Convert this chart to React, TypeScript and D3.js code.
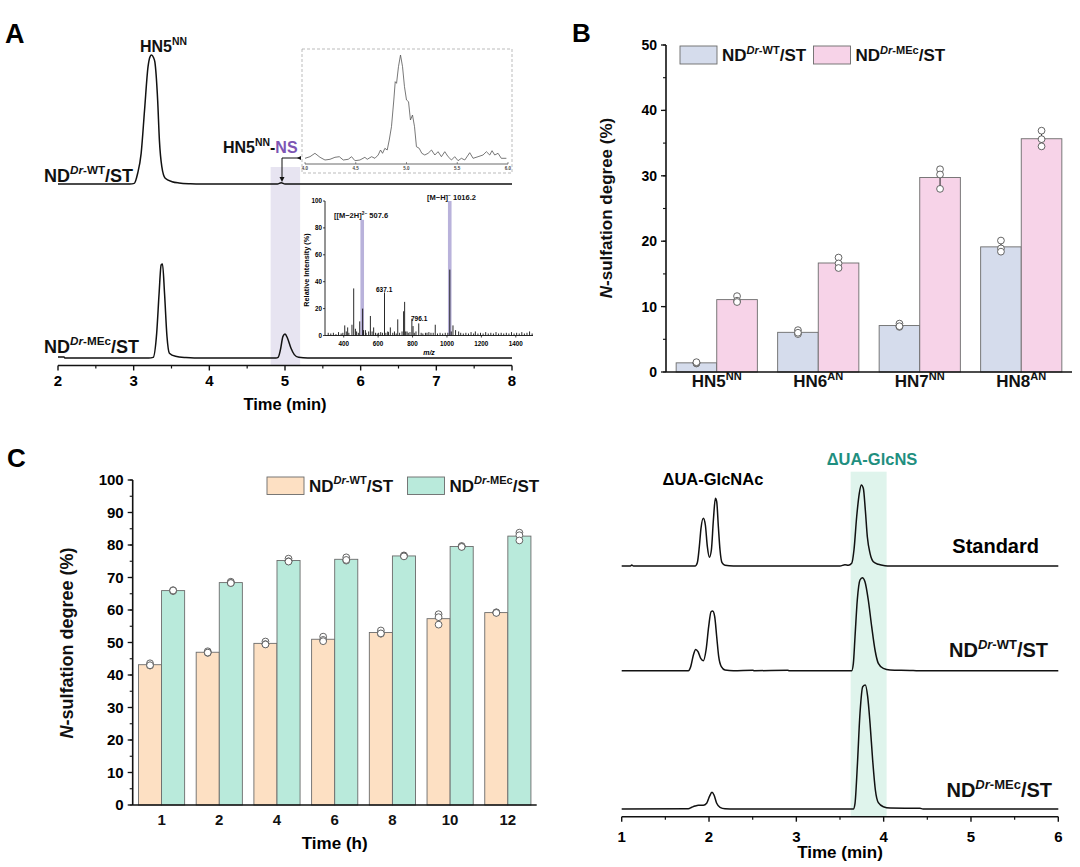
import React from 'react';
import * as d3 from 'd3';

const FONT = "'Liberation Sans', Arial, Helvetica, sans-serif";

// ---------------- Panel A data ----------------
const timeTicksA = [2, 3, 4, 5, 6, 7, 8];
const traceA_WT: [number, number][] = [
  [2.0, 0], [2.95, 0], [3.008, 0.5], [3.053, 8.3], [3.099, 23.8], [3.144, 57.4], [3.19, 91], [3.215, 98.5],
  [3.235, 100], [3.262, 98], [3.28, 94.6], [3.317, 65], [3.34, 34], [3.372, 13.4], [3.417, 4.4], [3.508, 1.8],
  [3.6, 0.8], [3.75, 0.2], [3.9, 0], [4.9, 0], [4.95, 0.9], [5.0, 0], [8.0, 0],
];
const traceA_MEc: [number, number][] = [
  [2.0, 0.8], [2.08, 0.8], [2.09, 0], [3.2, 0], [3.258, 0.5], [3.304, 19.1], [3.336, 50], [3.363, 72.1],
  [3.381, 72.9], [3.408, 50], [3.44, 16.9], [3.472, 3.7], [3.553, 1.3], [3.69, 0.3], [3.8, 0], [4.88, 0],
  [4.909, 0.5], [4.94, 6.5], [4.973, 16.8], [5.0, 18.6], [5.032, 15.5], [5.078, 7.7], [5.123, 2.6], [5.18, 0.5],
  [5.3, 0], [8.0, 0],
];
const insetTicks = [4.0, 4.5, 5.0, 5.5, 6.0];
const insetTrace: [number, number][] = [
  [4.0, 5.7], [4.049, 7.3], [4.098, 10.7], [4.148, 6.7], [4.197, 4], [4.246, 4.7], [4.295, 6.7], [4.338, 7.3],
  [4.377, 4], [4.426, 4.7], [4.459, 7.3], [4.492, 3.3], [4.541, 4], [4.59, 6.7], [4.613, 4.7], [4.656, 7.3],
  [4.689, 5.7], [4.721, 9], [4.744, 14], [4.764, 10.7], [4.787, 15.7], [4.81, 14], [4.83, 24], [4.852, 37.3],
  [4.875, 64], [4.889, 82.3], [4.902, 80.7], [4.921, 97.3], [4.941, 109], [4.961, 97.3], [4.98, 77.3], [5.0, 64],
  [5.02, 62.3], [5.039, 44], [5.059, 49], [5.079, 37.3], [5.098, 17.3], [5.125, 15.7], [5.151, 10.7], [5.18, 9],
  [5.213, 10.7], [5.246, 14], [5.279, 9], [5.311, 12.3], [5.344, 7.3], [5.377, 12.3], [5.41, 7.3], [5.443, 4],
  [5.475, 7.3], [5.508, 3.3], [5.541, 5.7], [5.574, 4], [5.623, 11.3], [5.656, 5.7], [5.705, 7.3], [5.754, 9],
  [5.787, 12.3], [5.82, 9], [5.843, 13.3], [5.869, 9], [5.902, 10.7], [5.934, 5.7], [5.984, 5.7],
];
const msXTicks = [400, 600, 800, 1000, 1200, 1400];
const msYTicks = [0, 20, 40, 60, 80, 100];
const msHighlight: [number, number][] = [[507.6, 86], [1016.2, 100]];
const msPeaks: [number, number][] = [
  [406, 7.5], [423, 6], [448, 8], [458, 35], [468, 5], [493, 10.5], [510, 20], [526, 4], [555, 14.5], [574, 6],
  [603, 2], [637.1, 32], [656, 3], [671, 6], [714, 12], [739, 3], [748, 18], [754, 25], [768, 3], [796.1, 12.5],
  [803, 7], [836, 9], [884, 2], [907, 2], [932, 8], [1016.5, 49], [1035, 7.5], [1050, 4], [1068, 3],
  [310, 2], [325, 1.5], [340, 2], [355, 1], [370, 2.5], [385, 1.5], [395, 2], [415, 3], [430, 2], [475, 3],
  [485, 2], [515, 4], [530, 2], [545, 3], [565, 3], [585, 2], [595, 1.5], [615, 2.5], [625, 2], [645, 2],
  [660, 2.5], [685, 2], [695, 3], [705, 1.5], [725, 2], [760, 3], [775, 2], [785, 2.5], [810, 2], [820, 3],
  [850, 2], [860, 1.5], [875, 2], [895, 2.5], [920, 2], [945, 1.5], [960, 2], [975, 1.5], [990, 2], [1005, 2],
  [1025, 3], [1080, 2], [1095, 1.5], [1110, 2], [1125, 1.5], [1140, 2.5], [1155, 1.5], [1165, 3], [1180, 1.5],
  [1195, 2], [1210, 1.5], [1225, 2.5], [1240, 1.5], [1255, 2], [1270, 1.5], [1285, 2.5], [1300, 1.5], [1315, 2],
  [1330, 1.5], [1345, 2], [1360, 1.5], [1375, 2.5], [1390, 1.5], [1405, 2], [1420, 1.5], [1435, 2.5], [1450, 1.5],
  [1465, 2], [1480, 3], [1495, 1.5],
];

// ---------------- Panel B data ----------------
const catsB = ['HN5', 'HN6', 'HN7', 'HN8'];
const supB = ['NN', 'AN', 'NN', 'AN'];
const wtB = [[1.3, 1.4, 1.5], [6.4, 5.8, 6.0], [7.4, 6.9, 7.0], [20.1, 18.9, 18.4]];
const mecB = [[11.6, 10.9, 10.7], [17.5, 16.6, 15.9], [31.0, 30.2, 28.0], [36.9, 35.6, 34.5]];
const yTicksB = [0, 10, 20, 30, 40, 50];

// ---------------- Panel C data ----------------
const timesC = ['1', '2', '4', '6', '8', '10', '12'];
const wtC = [[43.6, 42.9, 43.0], [47.3, 46.8, 46.9], [50.3, 49.5, 49.4], [51.8, 50.8, 50.4], [53.7, 52.7, 52.8], [58.7, 57.8, 55.5], [59.3, 59.2, 59.1]];
const mecC = [[66.1, 65.8, 66.0], [68.7, 68.3, 68.3], [75.8, 75.0, 74.9], [76.2, 75.2, 75.4], [76.8, 76.6, 76.5], [79.7, 79.5, 79.4], [83.8, 83.0, 81.4]];
const yTicksC = [0, 10, 20, 30, 40, 50, 60, 70, 80, 90, 100];

// ---------------- Panel D data ----------------
const timeTicksD = [1, 2, 3, 4, 5, 6];
const traceD_Std: [number, number][] = [
  [1.0, 0], [1.1, 0], [1.115, 1], [1.134, 0], [1.84, 0], [1.866, 3.3], [1.889, 19.3], [1.908, 37.7], [1.935, 47.7],
  [1.958, 41], [1.981, 19.3], [2.004, 8.7], [2.027, 16], [2.05, 46], [2.073, 67.7], [2.088, 64.3], [2.107, 39.3],
  [2.126, 16], [2.149, 3.3], [2.183, 0.7], [2.279, 0], [3.5, 0], [3.557, 1.3], [3.595, 0.7], [3.634, 2.7],
  [3.66, 16], [3.691, 49.3], [3.721, 72.7], [3.744, 81], [3.767, 77.7], [3.79, 56], [3.813, 29.3], [3.844, 12.7],
  [3.882, 4.3], [3.939, 1.7], [4.015, 0.3], [4.073, 0], [6.0, 0],
];
const traceD_WT: [number, number][] = [
  [1.0, 0], [1.763, 0], [1.79, 4], [1.821, 15.7], [1.847, 21.3], [1.874, 19], [1.905, 12.3], [1.935, 10],
  [1.966, 20.7], [1.996, 44], [2.023, 59], [2.042, 59.7], [2.065, 54], [2.088, 34], [2.111, 14], [2.141, 4],
  [2.183, 0.7], [2.279, 0], [2.5, 0.5], [2.52, 0], [2.9, 0.4], [2.92, 0], [3.634, 0], [3.653, 7.3], [3.672, 34],
  [3.698, 70.7], [3.729, 90.7], [3.756, 93], [3.786, 89], [3.824, 70.7], [3.863, 44], [3.901, 20.7], [3.939, 7.3],
  [3.996, 2.3], [4.073, 0.7], [4.3, 0.3], [4.4, 0], [6.0, 0],
];
const traceD_MEc: [number, number][] = [
  [1.0, 0], [1.763, 0.3], [1.802, 1.7], [1.84, 3], [1.878, 3.7], [1.935, 3.7], [1.973, 5.7], [2.004, 12.3],
  [2.034, 16.7], [2.057, 14], [2.088, 5.7], [2.126, 1.7], [2.183, 0.3], [2.3, 0], [3.653, 0], [3.672, 5.7],
  [3.698, 42.3], [3.729, 95.7], [3.76, 122.3], [3.79, 124], [3.817, 112.3], [3.844, 85.7], [3.874, 49],
  [3.905, 19], [3.939, 6.3], [3.996, 2.3], [4.073, 1], [4.416, 0.7], [4.45, 0], [6.0, 0],
];

// ---------------- text helpers ----------------
type Part = { t: string; sup?: boolean; it?: boolean; fill?: string };
const ndWT: Part[] = [{ t: 'ND' }, { t: 'Dr', sup: true, it: true }, { t: '-WT', sup: true }, { t: '/ST' }];
const ndMEc: Part[] = [{ t: 'ND' }, { t: 'Dr', sup: true, it: true }, { t: '-MEc', sup: true }, { t: '/ST' }];

function Rich({ x, y, parts, size, anchor = 'start', weight = 'bold', transform, fill = '#111' }: {
  x: number; y: number; parts: Part[]; size: number; anchor?: string; weight?: string; transform?: string; fill?: string;
}) {
  let inSup = false;
  const spans = parts.map((p, i) => {
    let dy: number | undefined;
    if (p.sup && !inSup) { dy = -size * 0.42; inSup = true; }
    else if (!p.sup && inSup) { dy = size * 0.42; inSup = false; }
    return (
      <tspan key={i} dy={dy} fontSize={p.sup ? size * 0.65 : size} fontStyle={p.it ? 'italic' : 'normal'} fill={p.fill}>
        {p.t}
      </tspan>
    );
  });
  return (
    <text x={x} y={y} fontSize={size} fontWeight={weight} textAnchor={anchor as any} fontFamily={FONT} fill={fill} transform={transform}>
      {spans}
    </text>
  );
}

// ---------------- Panel A ----------------
function PanelA() {
  const xA = d3.scaleLinear().domain([2, 8]).range([58, 512]);
  const kA = d3.scaleLinear().domain([0, 100]).range([0, 129]);
  const base1 = 184, base2 = 358, axisY = 365.5;
  const line1 = d3.line<[number, number]>().x(d => xA(d[0])).y(d => base1 - kA(d[1])).curve(d3.curveMonotoneX);
  const line2 = d3.line<[number, number]>().x(d => xA(d[0])).y(d => base2 - kA(d[1])).curve(d3.curveMonotoneX);
  const minor = d3.range(2.5, 8, 1);

  const xI = d3.scaleLinear().domain([4, 6]).range([305, 508]);
  const yI = d3.scaleLinear().domain([0, 110]).range([164, 54]);
  const lineI = d3.line<[number, number]>().x(d => xI(d[0])).y(d => yI(d[1]));

  const xM = d3.scaleLinear().domain([300, 1500]).range([326.5, 533]);
  const yM = d3.scaleLinear().domain([0, 100]).range([335.5, 201]);

  return (
    <g>
      <text x={5} y={43} fontSize={27} fontWeight="bold" fontFamily={FONT}>A</text>
      <rect x={xA(4.81)} y={167} width={xA(5.2) - xA(4.81)} height={axisY - 167} fill="#e7e4f1" />
      <path d={line1(traceA_WT) || ''} fill="none" stroke="#111" strokeWidth={1.5} />
      <path d={line2(traceA_MEc) || ''} fill="none" stroke="#111" strokeWidth={1.5} />
      <line x1={xA(2)} x2={xA(8)} y1={axisY} y2={axisY} stroke="#111" strokeWidth={1.6} />
      {timeTicksA.map(t => (
        <g key={t}>
          <line x1={xA(t)} x2={xA(t)} y1={axisY} y2={axisY + 5} stroke="#111" strokeWidth={1.4} />
          <text x={xA(t)} y={386} fontSize={15} fontWeight="bold" textAnchor="middle" fontFamily={FONT}>{t}</text>
        </g>
      ))}
      {minor.map(t => <line key={t} x1={xA(t)} x2={xA(t)} y1={axisY} y2={axisY + 3} stroke="#111" strokeWidth={1.2} />)}
      <text x={xA(5)} y={410} fontSize={16.5} fontWeight="bold" textAnchor="middle" fontFamily={FONT}>Time (min)</text>
      <Rich x={140} y={52} size={16} parts={[{ t: 'HN5' }, { t: 'NN', sup: true }]} />
      <Rich x={44} y={182} size={18} parts={ndWT} />
      <Rich x={44} y={353} size={18} parts={ndMEc} />
      <Rich x={223} y={153} size={16} parts={[{ t: 'HN5' }, { t: 'NN', sup: true }, { t: '-' }, { t: 'NS', fill: '#7d55b3' }]} />
      <path d="M300,158 L282,158 L282,178" fill="none" stroke="#111" strokeWidth={1} />
      <path d="M279.5,177 L284.5,177 L282,182 Z" fill="#111" />
      <path d="M297,158 L301,156 L301,160 Z" fill="#111" />
      <rect x={302} y={49} width={210} height={124} fill="none" stroke="#aaa" strokeWidth={0.8} strokeDasharray="3,2" />
      <path d={lineI(insetTrace) || ''} fill="none" stroke="#555" strokeWidth={0.8} />
      <line x1={xI(4)} x2={xI(6)} y1={164} y2={164} stroke="#444" strokeWidth={0.8} />
      {insetTicks.map(t => (
        <g key={t}>
          <line x1={xI(t)} x2={xI(t)} y1={164} y2={162} stroke="#444" strokeWidth={0.6} />
          <text x={xI(t)} y={170} fontSize={4.5} fontWeight="bold" textAnchor="middle" fontFamily={FONT} fill="#444">{t.toFixed(1)}</text>
        </g>
      ))}
      {msHighlight.map(([m, v]) => (
        <rect key={m} x={xM(m) - 1.8} y={yM(v)} width={3.6} height={yM(0) - yM(v)} fill="#b9b2db" />
      ))}
      {msPeaks.map(([m, v], i) => (
        <line key={i} x1={xM(m)} x2={xM(m)} y1={yM(0)} y2={yM(v)} stroke="#111" strokeWidth={0.9} />
      ))}
      <line x1={xM(300) - 1.5} x2={xM(300) - 1.5} y1={yM(0)} y2={yM(100)} stroke="#111" strokeWidth={0.9} />
      <line x1={xM(300) - 1.5} x2={xM(1500)} y1={yM(0)} y2={yM(0)} stroke="#111" strokeWidth={0.9} />
      {msYTicks.map(v => (
        <g key={v}>
          <line x1={xM(300) - 1.5} x2={xM(300) - 3.5} y1={yM(v)} y2={yM(v)} stroke="#111" strokeWidth={0.8} />
          <text x={xM(300) - 4.5} y={yM(v) + 2.2} fontSize={6.3} fontWeight="bold" textAnchor="end" fontFamily={FONT}>{v}</text>
        </g>
      ))}
      {msXTicks.map(m => (
        <g key={m}>
          <line x1={xM(m)} x2={xM(m)} y1={yM(0)} y2={yM(0) + 2} stroke="#111" strokeWidth={0.8} />
          <text x={xM(m)} y={yM(0) + 10} fontSize={6.3} fontWeight="bold" textAnchor="middle" fontFamily={FONT}>{m}</text>
        </g>
      ))}
      <text x={429} y={355} fontSize={7} fontWeight="bold" fontStyle="italic" textAnchor="middle" fontFamily={FONT}>m/z</text>
      <text transform="translate(308.5,270) rotate(-90)" fontSize={7.3} fontWeight="bold" textAnchor="middle" fontFamily={FONT}>Relative Intensity (%)</text>
      <Rich x={334} y={218} size={7.5} parts={[{ t: '[[M−2H]' }, { t: '2−', sup: true }, { t: ' 507.6' }]} />
      <Rich x={427} y={200} size={7.5} parts={[{ t: '[M−H]' }, { t: '−', sup: true }, { t: ' 1016.2' }]} />
      <text x={376} y={292} fontSize={6.5} fontWeight="bold" fontFamily={FONT}>637.1</text>
      <text x={411} y={321} fontSize={6.5} fontWeight="bold" fontFamily={FONT}>796.1</text>
    </g>
  );
}

// ---------------- grouped bar panel ----------------
function BarPanel({ cats, labels, wt, mec, xRange, yDomain, yRange, yTicks, colors, tickSize, catSize, ylabelX, ylabelY, ylabelSize, catY, title, titleY, legend, letter }: any) {
  const x0 = d3.scaleBand<string>().domain(cats).range(xRange).paddingInner(0.2).paddingOuter(0.1);
  const x1 = d3.scaleBand<string>().domain(['wt', 'mec']).range([0, x0.bandwidth()]).padding(0);
  const y = d3.scaleLinear().domain(yDomain).range(yRange);
  const minor = y.ticks((yDomain[1] - yDomain[0]) / 5);
  const series = [{ key: 'wt', data: wt, color: colors[0] }, { key: 'mec', data: mec, color: colors[1] }];
  const axX = xRange[0];
  return (
    <g>
      <text x={letter.x} y={letter.y} fontSize={26} fontWeight="bold" fontFamily={FONT}>{letter.t}</text>
      {series.map(s => cats.map((c: string, i: number) => {
        const vals: number[] = s.data[i];
        const m = d3.mean(vals) as number;
        const sd = d3.deviation(vals) as number;
        const bx = (x0(c) as number) + (x1(s.key) as number);
        const cx = bx + x1.bandwidth() / 2;
        return (
          <g key={s.key + c}>
            <rect x={bx} y={y(m)} width={x1.bandwidth()} height={y(0) - y(m)} fill={s.color} stroke="#6b6b6b" strokeWidth={0.9} />
            <line x1={cx} x2={cx} y1={y(m - sd)} y2={y(m + sd)} stroke="#222" strokeWidth={1} />
            <line x1={cx - 3} x2={cx + 3} y1={y(m - sd)} y2={y(m - sd)} stroke="#222" strokeWidth={1} />
            <line x1={cx - 3} x2={cx + 3} y1={y(m + sd)} y2={y(m + sd)} stroke="#222" strokeWidth={1} />
            {vals.map((v, j) => <circle key={j} cx={cx} cy={y(v)} r={3.4} fill="white" stroke="#555" strokeWidth={0.9} />)}
          </g>
        );
      }))}
      <line x1={axX} x2={axX} y1={y(yDomain[0])} y2={y(yDomain[1])} stroke="#111" strokeWidth={1.6} />
      <line x1={axX} x2={xRange[1]} y1={y(0)} y2={y(0)} stroke="#111" strokeWidth={1.6} />
      {minor.map((v: number) => <line key={'m' + v} x1={axX} x2={axX - 3} y1={y(v)} y2={y(v)} stroke="#111" strokeWidth={1.1} />)}
      {yTicks.map((v: number) => (
        <g key={v}>
          <line x1={axX} x2={axX - 5} y1={y(v)} y2={y(v)} stroke="#111" strokeWidth={1.3} />
          <text x={axX - 9} y={y(v) + tickSize * 0.36} fontSize={tickSize} fontWeight="bold" textAnchor="end" fontFamily={FONT}>{v}</text>
        </g>
      ))}
      {cats.map((c: string, i: number) => (
        <Rich key={c} x={(x0(c) as number) + x0.bandwidth() / 2} y={catY} size={catSize} anchor="middle" parts={labels[i]} />
      ))}
      {title && <text x={(xRange[0] + xRange[1]) / 2} y={titleY} fontSize={17} fontWeight="bold" textAnchor="middle" fontFamily={FONT}>{title}</text>}
      <Rich x={0} y={0} size={ylabelSize} anchor="middle" transform={`translate(${ylabelX},${ylabelY}) rotate(-90)`}
        parts={[{ t: 'N', it: true }, { t: '-sulfation degree (%)' }]} />
      {legend.map((l: any, i: number) => (
        <g key={i}>
          <rect x={l.x} y={l.y} width={37} height={l.h} fill={colors[i]} stroke="#6b6b6b" strokeWidth={0.9} />
          <Rich x={l.x + 42} y={l.ty} size={17} parts={i === 0 ? ndWT : ndMEc} />
        </g>
      ))}
    </g>
  );
}

// ---------------- Panel D ----------------
function PanelD() {
  const xD = d3.scaleLinear().domain([1, 6]).range([621.7, 1058.3]);
  const axisY = 816.7;
  const mk = (base: number) => d3.line<[number, number]>().x(d => xD(d[0])).y(d => base - d[1]).curve(d3.curveMonotoneX);
  const minor = d3.range(1.5, 6, 1);
  return (
    <g>
      <rect x={xD(3.622)} y={471.7} width={xD(4.034) - xD(3.622)} height={axisY - 471.7} fill="#dff4ec" />
      <path d={mk(566)(traceD_Std) || ''} fill="none" stroke="#111" strokeWidth={1.5} />
      <path d={mk(670.7)(traceD_WT) || ''} fill="none" stroke="#111" strokeWidth={1.5} />
      <path d={mk(809)(traceD_MEc) || ''} fill="none" stroke="#111" strokeWidth={1.5} />
      <line x1={xD(1)} x2={xD(6)} y1={axisY} y2={axisY} stroke="#111" strokeWidth={1.6} />
      {timeTicksD.map(t => (
        <g key={t}>
          <line x1={xD(t)} x2={xD(t)} y1={axisY} y2={axisY + 5} stroke="#111" strokeWidth={1.4} />
          <text x={xD(t)} y={842} fontSize={15} fontWeight="bold" textAnchor="middle" fontFamily={FONT}>{t}</text>
        </g>
      ))}
      {minor.map(t => <line key={t} x1={xD(t)} x2={xD(t)} y1={axisY} y2={axisY + 3} stroke="#111" strokeWidth={1.2} />)}
      <text x={840} y={858} fontSize={17} fontWeight="bold" textAnchor="middle" fontFamily={FONT}>Time (min)</text>
      <text x={713} y={485} fontSize={16.5} fontWeight="bold" textAnchor="middle" fontFamily={FONT}>ΔUA-GlcNAc</text>
      <text x={872} y={465} fontSize={16.5} fontWeight="bold" textAnchor="middle" fontFamily={FONT} fill="#1f8f80">ΔUA-GlcNS</text>
      <text x={1039} y={553} fontSize={20} fontWeight="bold" textAnchor="end" fontFamily={FONT}>Standard</text>
      <Rich x={1048} y={657} size={20} anchor="end" parts={ndWT} />
      <Rich x={1052} y={797} size={20} anchor="end" parts={ndMEc} />
    </g>
  );
}

export default function App() {
  const labelsB = catsB.map((c, i) => [{ t: c }, { t: supB[i], sup: true }]);
  const labelsC = timesC.map(t => [{ t }]);
  return (
    <svg width={1080} height={867} viewBox="0 0 1080 867" style={{ position: 'absolute', left: 0, top: 0, background: 'white' }}>
      <rect x={0} y={0} width={1080} height={867} fill="white" />
      <PanelA />
      <BarPanel cats={catsB} labels={labelsB} wt={wtB} mec={mecB} xRange={[666, 1072]} yDomain={[0, 50]} yRange={[372, 45]}
        yTicks={yTicksB} colors={['#d5dcec', '#f7d3e8']} tickSize={14} catSize={17} ylabelX={612} ylabelY={208} ylabelSize={17}
        catY={387} title={null} titleY={0}
        legend={[{ x: 680, y: 46, h: 18, ty: 61 }, { x: 813.5, y: 46, h: 18, ty: 61 }]}
        letter={{ t: 'B', x: 572, y: 42 }} />
      <BarPanel cats={timesC} labels={labelsC} wt={wtC} mec={mecC} xRange={[132.7, 536.7]} yDomain={[0, 100]} yRange={[805, 480]}
        yTicks={yTicksC} colors={['#fde0c3', '#b9eadb']} tickSize={15} catSize={15} ylabelX={73} ylabelY={643} ylabelSize={18}
        catY={825} title="Time (h)" titleY={849}
        legend={[{ x: 267, y: 477, h: 17.5, ty: 491.5 }, { x: 407.5, y: 477, h: 17.5, ty: 491.5 }]}
        letter={{ t: 'C', x: 7, y: 467 }} />
      <PanelD />
    </svg>
  );
}
